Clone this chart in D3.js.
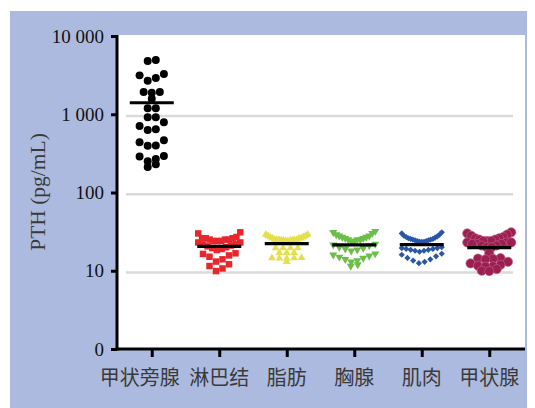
<!DOCTYPE html>
<html>
<head>
<meta charset="utf-8">
<script src="https://cdn.jsdelivr.net/npm/d3@7"></script>
<style>
  html, body { margin: 0; padding: 0; background: #fff; }
  svg { display: block; }
</style>
</head>
<body>
<svg id="chart" width="535" height="408"></svg>
<script>
// ---- data -------------------------------------------------------------
const categories = ["甲状旁腺", "淋巴结", "脂肪", "胸腺", "肌肉", "甲状腺"];

// PTH (pg/mL) in washout fluid, one value per sample
const parathyroid = [4950, 4800, 3270, 3140, 2905, 2685, 1925, 1925, 1888, 1581,
  1195, 1190, 914, 914, 789, 708, 642, 629, 464, 438, 400, 397,
  292, 288, 268, 250, 229, 212];
const lymphNode = [31, 30, 27, 26, 26, 26, 25, 25, 25, 24, 24, 24, 23, 23,
  22, 21.5, 21, 20.5, 20, 19.5, 19, 18.4,
  16.7, 16.4, 15.7, 15.1, 14, 13.1, 12.1, 11.5, 10.7, 9.9];
const fat = [29, 29, 28, 28, 27, 27, 26, 26, 26, 25, 25, 25, 25, 25,
  24.5, 24.5, 24.5, 24.5, 24, 24,
  19.5, 19.5, 19.5, 19.5, 17, 17, 17, 14.7, 14.6, 14.5, 14.4, 14.3, 13];
const thymus = [32, 31, 30, 29, 28, 28, 27, 27, 26, 26, 25, 25, 25, 24, 24,
  22, 21.5, 21, 20, 19.5, 19, 18.5, 18,
  16.5, 16, 15.5, 15, 14.5, 14, 13.5, 13, 12, 11.5];
const muscle = [31, 30, 29, 28, 27.5, 27, 26.5, 26, 25.5, 25.5, 25, 25, 24.5, 24.5,
  24, 24, 23.5, 23.5, 23.5,
  20, 19.5, 19.5, 19, 19, 18.5, 18.5, 18, 18, 17.5,
  16.5, 16, 15.3, 14.6, 14, 13.5, 13, 12.5];
const thyroid = [31, 30, 29, 28, 27, 26, 26, 25, 25, 24, 24, 24,
  23, 23, 23, 22, 22, 22, 21, 21, 20, 20,
  16.7, 14.5, 14.3, 14.2, 14, 13, 12.4, 11.9, 11.6, 11.4, 11.3, 10.5, 10, 9.9];

const seriesValues = [parathyroid, lymphNode, fat, thymus, muscle, thyroid];

const yTickValues = [1, 10, 100, 1000, 10000];
const yTickLabels = ["0", "10", "100", "1 000", "10 000"];
const gridValues = [10, 100, 1000];
const yTitle = "PTH (pg/mL)";

// ---- styles -----------------------------------------------------------
// step: horizontal spacing of points in a row; gap/cap: how points are grouped into rows
const markerStyles = [
  { type: d3.symbolCircle,   size: 50, rotate: 0,   fill: "#000000", stroke: "none",    step: 8.1, gap: 4.5, cap: 7.8, maxW: 42 },
  { type: d3.symbolSquare,   size: 42, rotate: 0,   fill: "#e8262b", stroke: "none",    step: 6.5, gap: 6,   cap: 9.5, maxW: 42 },
  { type: d3.symbolTriangle, size: 26, rotate: 0,   fill: "#e4e04c", stroke: "none",    step: 7.4, gap: 3.0, cap: 10,  maxW: 42 },
  { type: d3.symbolTriangle, size: 28, rotate: 180, fill: "#6bbf48", stroke: "none",    step: 7.0, gap: 2.5, cap: 10,  maxW: 42 },
  { type: d3.symbolSquare,   size: 19, rotate: 45,  fill: "#2a56a6", stroke: "none",    step: 5.8, gap: 1.8, cap: 10,  maxW: 40 },
  { type: d3.symbolCircle,   size: 66, rotate: 0,   fill: "#9b1f50", stroke: "#c25a84", step: 7.5, gap: 2.0, cap: 9,   maxW: 44 }
];
const labelNudge = [-12, 0, 0, 0, 0, 0];

const serif = "'Liberation Serif', 'Times New Roman', serif";
const cjk = "'Noto Sans CJK SC', 'Noto Sans', sans-serif";

// ---- frame ------------------------------------------------------------
const svg = d3.select("#chart");
const panel = { left: 117, right: 525, top: 35, bottom: 349 };

svg.append("rect").attr("x", 10).attr("y", 11).attr("width", 517).attr("height", 397)
  .attr("fill", "#adbadf");
svg.append("rect")
  .attr("x", panel.left).attr("y", panel.top)
  .attr("width", panel.right - panel.left).attr("height", panel.bottom - panel.top)
  .attr("fill", "#ffffff");

// ---- scales -----------------------------------------------------------
const y = d3.scaleLog().domain([1, 10000]).range([349, 36]);
const x = d3.scalePoint().domain(categories).range([118, 523]).padding(0.5);

// ---- grid -------------------------------------------------------------
svg.append("g").selectAll("line").data(gridValues).join("line")
  .attr("x1", 126).attr("x2", 513)
  .attr("y1", d => y(d) + 1.8).attr("y2", d => y(d) + 1.8)
  .attr("stroke", "#dadada").attr("stroke-width", 2.5);

// ---- column scatter layout -------------------------------------------
// Points are grouped into horizontal rows; within a row the lowest values sit
// in the middle and higher values fan outwards.
function columnScatter(values, cx, st) {
  const pts = values.map(v => ({ v, py: y(v) })).sort((a, b) => a.py - b.py);
  const rows = [];
  let row = null, prev = null;
  pts.forEach(p => {
    if (!row || p.py - prev > st.gap || p.py - row.y0 > st.cap) {
      row = { y0: p.py, pts: [] };
      rows.push(row);
    }
    row.pts.push(p);
    prev = p.py;
  });
  rows.forEach(r => {
    const n = r.pts.length;
    const step = n > 1 ? Math.min(st.step, st.maxW / (n - 1)) : 0;
    const slots = d3.range(n).map(i => (i - (n - 1) / 2) * step)
      .sort((a, b) => Math.abs(a) - Math.abs(b) || a - b);
    r.pts.slice().sort((a, b) => a.v - b.v).forEach((p, i) => { p.px = cx + slots[i]; });
  });
  return pts;
}

// ---- points -----------------------------------------------------------
categories.forEach((cat, i) => {
  const st = markerStyles[i];
  const pts = columnScatter(seriesValues[i], x(cat), st);
  const sym = d3.symbol().type(st.type).size(st.size);
  svg.append("g").selectAll("path").data(pts).join("path")
    .attr("d", sym)
    .attr("transform", d => `translate(${d.px},${d.py}) rotate(${st.rotate})`)
    .attr("fill", st.fill)
    .attr("stroke", st.stroke)
    .attr("stroke-width", st.stroke === "none" ? 0 : 0.7);
});

// ---- mean lines -------------------------------------------------------
svg.append("g").selectAll("line").data(categories).join("line")
  .attr("x1", d => x(d) - 22).attr("x2", d => x(d) + 22)
  .attr("y1", (d, i) => y(d3.mean(seriesValues[i])))
  .attr("y2", (d, i) => y(d3.mean(seriesValues[i])))
  .attr("stroke", "#000").attr("stroke-width", 3.2);

// ---- axes -------------------------------------------------------------
const yAxis = d3.axisLeft(y)
  .tickValues(yTickValues)
  .tickFormat(d => yTickLabels[yTickValues.indexOf(d)])
  .tickSize(6).tickPadding(7);
const gy = svg.append("g").attr("transform", `translate(${panel.left},0)`).call(yAxis);
gy.select(".domain").remove();
gy.selectAll(".tick line").attr("stroke", "#000").attr("stroke-width", 3);
gy.selectAll(".tick text")
  .attr("font-family", serif).attr("font-size", 19).attr("fill", "#111");

const xAxis = d3.axisBottom(x).tickSize(8).tickFormat("");
const gx = svg.append("g").attr("transform", `translate(0,${panel.bottom})`).call(xAxis);
gx.select(".domain").remove();
gx.selectAll(".tick line").attr("stroke", "#000").attr("stroke-width", 3);

// axis lines
svg.append("line")
  .attr("x1", panel.left).attr("x2", panel.left)
  .attr("y1", panel.top).attr("y2", panel.bottom + 1.5)
  .attr("stroke", "#000").attr("stroke-width", 3);
svg.append("line")
  .attr("x1", panel.left - 1.5).attr("x2", panel.right)
  .attr("y1", panel.bottom).attr("y2", panel.bottom)
  .attr("stroke", "#000").attr("stroke-width", 3);

// category labels
svg.append("g").selectAll("text").data(categories).join("text")
  .attr("x", (d, i) => x(d) + labelNudge[i])
  .attr("y", 385)
  .attr("text-anchor", "middle")
  .attr("font-family", cjk).attr("font-size", 20).attr("fill", "#3a3a3a")
  .text(d => d);

// y title
svg.append("text")
  .attr("transform", "translate(38,192) rotate(-90)")
  .attr("text-anchor", "middle").attr("dominant-baseline", "central")
  .attr("font-family", serif).attr("font-size", 21.5).attr("fill", "#3a3a3a")
  .text(yTitle);
</script>
</body>
</html>
